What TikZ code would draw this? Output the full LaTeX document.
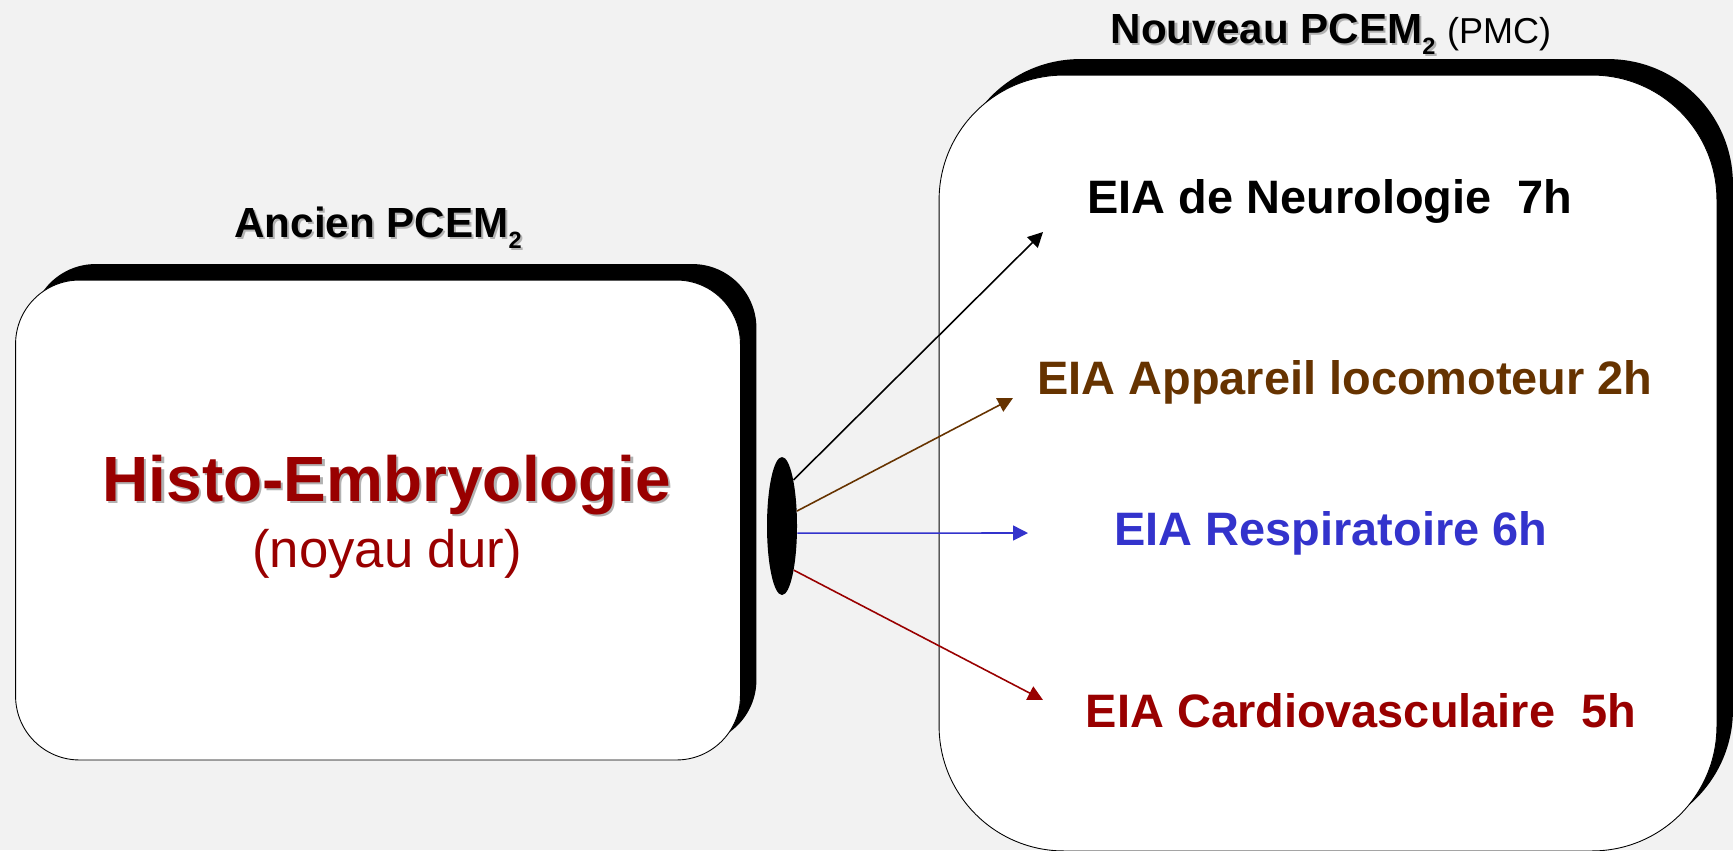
\documentclass[tikz,border=0pt]{standalone}
\usepackage{fontspec}
\setmainfont{Liberation Sans}
\usepackage{tikz}
\usetikzlibrary{shapes.geometric,shadows,arrows.meta}
\definecolor{bgrey}{HTML}{F2F2F2}
\definecolor{histored}{HTML}{990000}
\definecolor{locobrown}{HTML}{663300}
\definecolor{respblue}{HTML}{3333CC}
\newcommand{\shtext}[1]{\rlap{\kern1.2pt\raisebox{-1.2pt}{\color{black!30}#1}}#1}
\newcommand{\subtwo}{\raisebox{-6.3pt}{\fontsize{13.4}{14}\selectfont 2}}

\begin{document}
\begin{tikzpicture}[x=0.02cm,y=-0.02cm]
                \tikzstyle{panel} = [rectangle, draw=black, line width=0.5pt, fill=white, drop shadow={shadow xshift=0.32cm, shadow yshift=0.32cm, fill=black, opacity=1}]
                \tikzstyle{heading} = [anchor=base, inner sep=0pt, font=\bfseries\fontsize{24}{28}\selectfont]
                \tikzstyle{eia} = [anchor=base, inner sep=0pt, font=\bfseries\fontsize{26.7}{30}\selectfont]
                \tikzstyle{arrow} = [line width=0.9pt, -{Triangle[length=0.3cm, width=0.3cm]}]
                \fill [bgrey] (0,0) rectangle (1733,850);
                \useasboundingbox (0,0) rectangle (1733,850);
                \clip (0,0) rectangle (1733,850);

                \node (old) [panel, minimum width=14.5cm, minimum height=9.6cm, rounded corners=1.28cm] at (378,520) {};
                \node (new) [panel, minimum width=15.56cm, minimum height=15.52cm, rounded corners=2.5cm] at (1328,463) {};

                \node (anc) [heading] at (378,237) {\shtext{Ancien PCEM\subtwo}};
                \node (nouv) [heading] at (1331,43) {\shtext{Nouveau PCEM\subtwo} {\mdseries\fontsize{20.5}{24}\selectfont (PMC)}};

                \node (histo) [anchor=base, inner sep=0pt, text=histored, font=\bfseries\fontsize{36.4}{40}\selectfont] at (387,501) {\shtext{Histo-Embryologie}};
                \node (noyau) [anchor=base, inner sep=0pt, text=histored, font=\fontsize{30}{34}\selectfont] at (387,567) {(noyau dur)};

                \node (hub) [ellipse, fill=black, inner sep=0pt, minimum width=0.6cm, minimum height=2.76cm] at (782,526) {};

                \node (neuro) [eia] at (1330,213) {EIA de Neurologie\ \ 7h};
                \node (loco) [eia, text=locobrown] at (1345,394) {EIA Appareil locomoteur 2h};
                \node (resp) [eia, text=respblue] at (1331,545) {EIA Respiratoire 6h};
                \node (cardio) [eia, text=histored] at (1361,727) {EIA Cardiovasculaire\ \ 5h};

                \coordinate (tn) at (1043,232);
                \coordinate (tl) at (1013,398);
                \coordinate (tr) at (1028,533);
                \coordinate (tc) at (1043,700);

                \draw [arrow] (hub.76) -- (tn);
                \draw [arrow, locobrown] (hub.45) -- (tl);
                \draw [arrow, respblue] (hub.-25) -- (tr);
                \draw [arrow, histored] (hub.-75) -- (tc);
            \end{tikzpicture}
\end{document}
